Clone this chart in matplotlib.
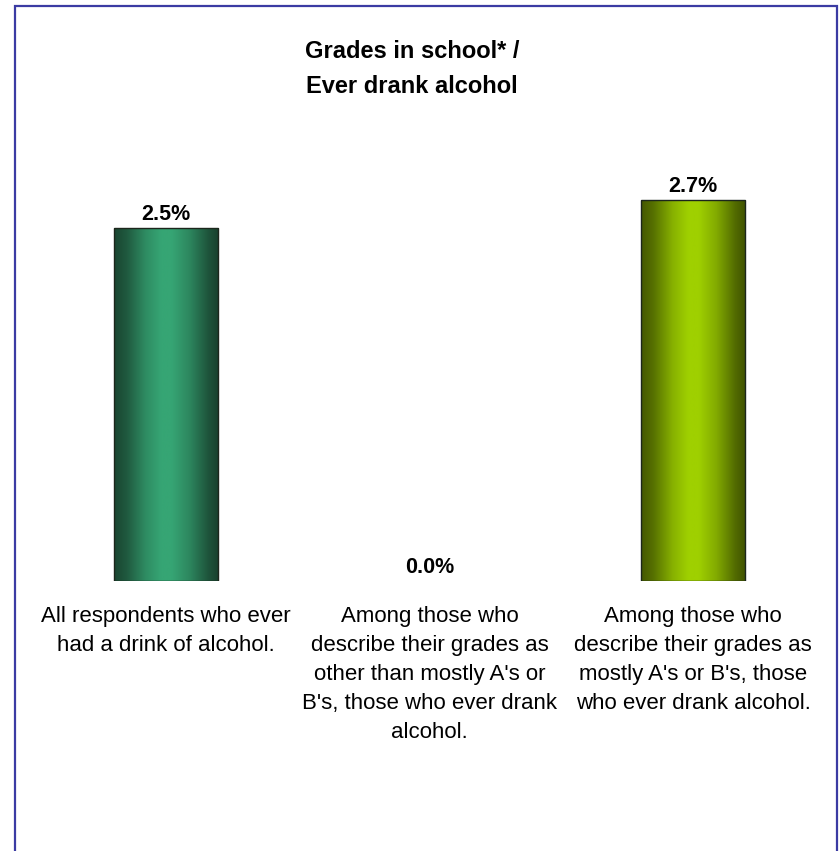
import numpy as np
import matplotlib
matplotlib.use("Agg")
import matplotlib.pyplot as plt
from matplotlib.colors import LinearSegmentedColormap, to_rgb
from matplotlib.patches import Rectangle

plt.rcParams['font.family'] = ['Liberation Sans', 'DejaVu Sans']

categories = [
    "All respondents who ever\nhad a drink of alcohol.",
    "Among those who\ndescribe their grades as\nother than mostly A's or\nB's, those who ever drank\nalcohol.",
    "Among those who\ndescribe their grades as\nmostly A's or B's, those\nwho ever drank alcohol.",
]
values = [2.5, 0.0, 2.7]
value_labels = ["2.5%", "0.0%", "2.7%"]
title = "Grades in school* /\nEver drank alcohol"

bar_dark = ["#18402d", "#18402d", "#3f5200"]
bar_light = ["#36a574", "#36a574", "#9fd000"]


def mix(c1, c2, t):
    a, b = np.array(to_rgb(c1)), np.array(to_rgb(c2))
    return tuple(a + (b - a) * t)


fig = plt.figure(figsize=(8.39, 8.51), dpi=100)
fig.patch.set_facecolor("white")

ax = fig.add_axes([34/839, 1-581/851, 791/839, 3.0*141.15/851])
x = np.arange(len(values))
width = 0.395
bars = ax.bar(x, values, width, color="none", edgecolor="#1c261c", linewidth=1.0, zorder=3)

grad = np.linspace(0, 1, 256).reshape(1, -1)
for b, dk, lt in zip(bars, bar_dark, bar_light):
    h = b.get_height()
    if h <= 0:
        b.set_linewidth(0)
        continue
    stops = [(0.0, mix(dk, lt, 0.05)), (0.12, mix(dk, lt, 0.25)), (0.3, mix(dk, lt, 0.75)),
             (0.45, lt), (0.55, lt), (0.72, mix(dk, lt, 0.7)), (0.9, mix(dk, lt, 0.2)),
             (1.0, dk)]
    cmap = LinearSegmentedColormap.from_list("g", stops)
    x0 = b.get_x()
    im = ax.imshow(grad, extent=[x0, x0 + b.get_width(), 0, h], aspect="auto",
                   cmap=cmap, zorder=2, interpolation="bilinear")
    im.set_clip_path(b)

for xi, v, lab in zip(x, values, value_labels):
    ax.annotate(lab, (xi, v), xytext=(0, 2), textcoords="offset points",
                ha="center", va="bottom", fontsize=15.5, fontweight="bold", color="black")

ax.set_xlim(-0.5, 2.5)
ax.set_ylim(0, 3.0)
ax.set_xticks(x)
ax.set_xticklabels(categories, fontsize=16, linespacing=1.5, multialignment="center")
ax.tick_params(axis="x", length=0, pad=18)
ax.set_yticks([])
for s in ax.spines.values():
    s.set_visible(False)
ax.patch.set_alpha(0)

fig.text(412/839, 1-69/851, title, ha="center", va="center", fontsize=17,
         fontweight="bold", linespacing=1.7)

fig.add_artist(Rectangle((15/839, -0.05), (837-15)/839, 1-6/851+0.05,
                         transform=fig.transFigure, fill=False,
                         edgecolor="#3b3ba3", linewidth=1.6))

fig.savefig("out.png", dpi=100, facecolor="white")
